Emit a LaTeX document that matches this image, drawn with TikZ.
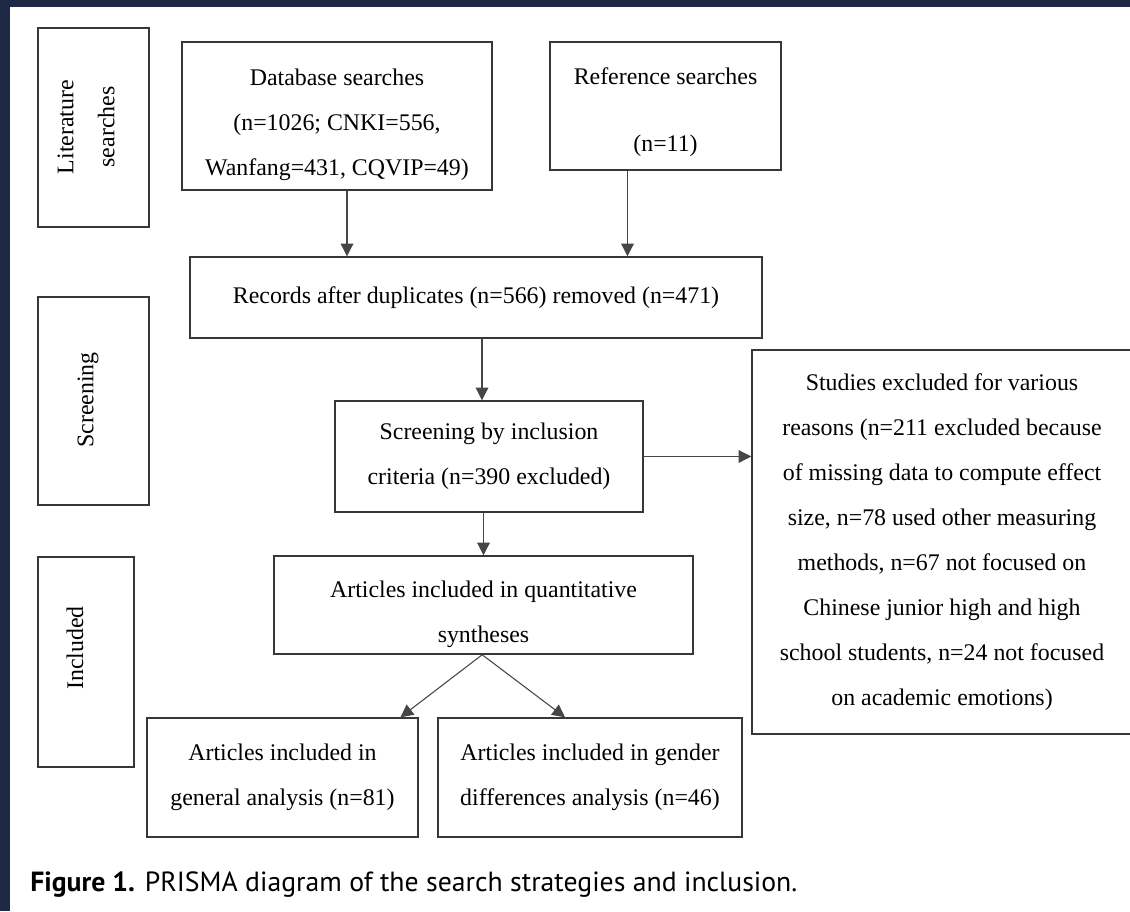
\documentclass[tikz,border=0pt]{standalone}
\usepackage{fontspec}
\setmainfont{Liberation Serif}
\newfontfamily\capfont{PT Sans}
\usetikzlibrary{arrows.meta}
\definecolor{framecol}{RGB}{30,41,70}
\definecolor{edgecol}{RGB}{55,55,55}
\definecolor{arrcol}{RGB}{70,70,70}
\begin{document}
\begin{tikzpicture}[x=0.75pt,y=-0.75pt,
  box/.style={draw=edgecol, line width=1.1pt, inner sep=0pt, align=center,
              font=\fontsize{17.9}{33.75}\selectfont, text=black},
  sidetext/.style={rotate=90, align=center, inner sep=0pt,
              font=\fontsize{17.9}{30.75}\selectfont, text=black},
  arr/.style={draw=arrcol, line width=0.8pt, -{Triangle[length=9.5pt,width=9.5pt]}}]
\fill[framecol] (0,0) rectangle (1130,911);
\fill[white] (10,7) rectangle (1130,911);
\useasboundingbox (0,0) rectangle (1130,911);

% side labels
\node[box, minimum width=83.25pt, minimum height=149.25pt] (lit) at (93.5,127.5) {};
\node[sidetext] (littext) at (86,127) {Literature\\searches};
\node[box, minimum width=83.25pt, minimum height=156pt] (scrlab) at (93.5,401) {};
\node[sidetext] (scrtext) at (88,400) {Screening};
\node[box, minimum width=72pt, minimum height=157.5pt] (inclab) at (86,662) {};
\node[sidetext] (inctext) at (75,648) {Included};

% main boxes
\node[box, minimum width=232.5pt, minimum height=111pt] (db) at (337,116)
  {\rule{0pt}{26pt}Database searches\\(n=1026; CNKI=556,\\Wanfang=431, CQVIP=49)};
\node[box, minimum width=173.25pt, minimum height=96pt] (ref) at (665.5,106)
  {\rule{0pt}{21.5pt}Reference searches\\[16.5pt](n=11)};
\node[box, minimum width=429pt, minimum height=60.75pt] (rec) at (476,297.5)
  {Records after duplicates (n=566) removed (n=471)};
\node[box, minimum width=231pt, minimum height=83.25pt] (scr) at (489,456.5)
  {Screening by inclusion\\criteria (n=390 excluded)};
\node[box, minimum width=285pt, minimum height=288pt] (exc) at (942,542)
  {Studies excluded for various\\reasons (n=211 excluded because\\of missing data to compute effect\\size, n=78 used other measuring\\methods, n=67 not focused on\\Chinese junior high and high\\school students, n=24 not focused\\on academic emotions)};
\node[box, minimum width=314.25pt, minimum height=73.5pt] (qs) at (483.5,605)
  {\rule{0pt}{26pt}Articles included in quantitative\\syntheses};
\node[box, minimum width=203.25pt, minimum height=89.25pt] (gen) at (282.5,777.5)
  {Articles included in\\general analysis (n=81)};
\node[box, minimum width=228pt, minimum height=89.25pt] (gend) at (590,777.5)
  {Articles included in gender\\differences analysis (n=46)};

% connectors
\draw[arr] ([xshift=7.5pt]db.south) -- ([xshift=7.5pt]db.south |- rec.north);
\draw[arr] ([xshift=-28.5pt]ref.south) -- ([xshift=-28.5pt]ref.south |- rec.north);
\draw[arr] ([xshift=4.5pt]rec.south) -- ([xshift=4.5pt]rec.south |- scr.north);
\draw[arr] (scr.east) -- (scr.east -| exc.west);
\draw[arr] (qs.north |- scr.south) -- (qs.north);
\draw[arr] ([xshift=-1pt]qs.south) -- ([xshift=88.5pt]gen.north);
\draw[arr] ([xshift=-1pt]qs.south) -- ([xshift=-18.75pt]gend.north);

% caption
\node[anchor=west, inner sep=0pt, font=\capfont\fontsize{20.8}{24}\selectfont, text=black] (cap) at (30,885)
  {\textbf{Figure 1.} PRISMA diagram of the search strategies and inclusion.};
\end{tikzpicture}
\end{document}
